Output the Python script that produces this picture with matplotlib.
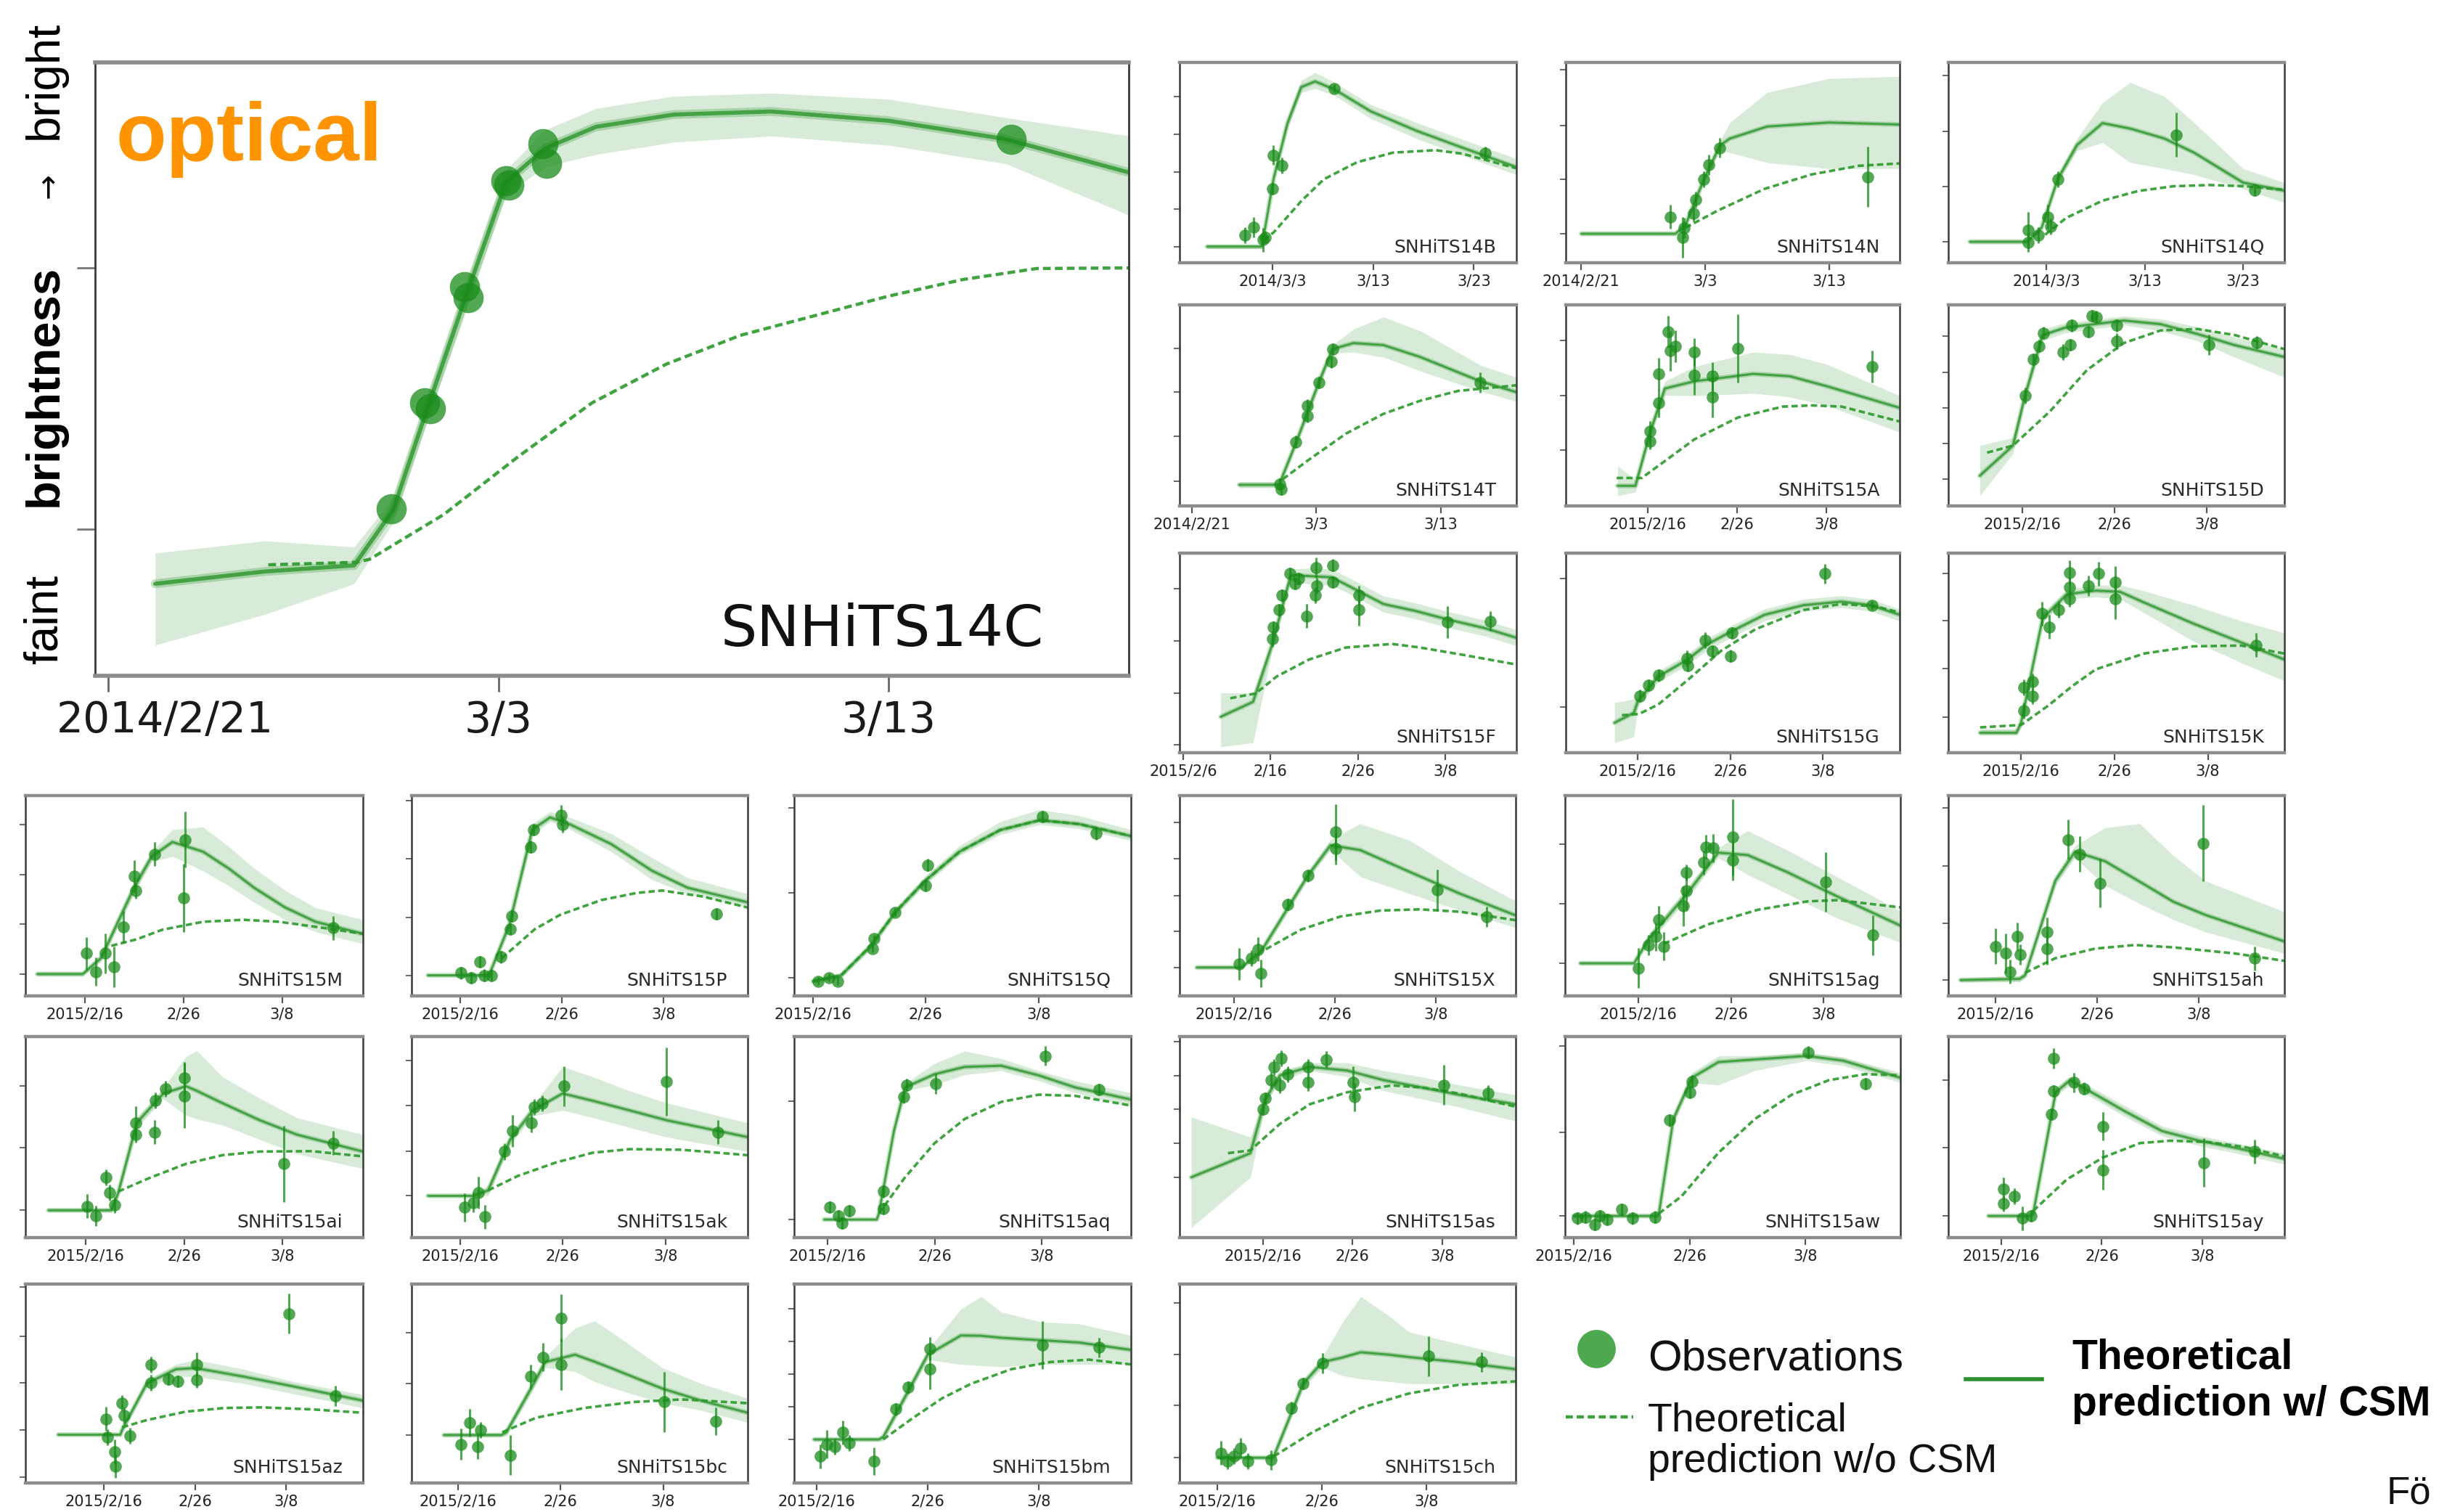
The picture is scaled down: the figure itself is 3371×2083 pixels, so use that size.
import matplotlib.pyplot as plt
from matplotlib.transforms import ScaledTranslation

W, H = 3371, 2083
DPI = 100
GREEN = '#1a8c1a'

# ---- data: x in days from first labelled tick, y = relative brightness (0 faint .. 1 bright)
# obs: (day, brightness, error) ; csm: (day, low, mid, high) ; nocsm: (day, brightness)

sn14C_obs = [(7.26, 0.272, 0), (8.1, 0.445, 0), (8.25, 0.435, 0), (9.14, 0.634, 0), (9.23, 0.617, 0),
             (10.2, 0.807, 0), (10.26, 0.800, 0), (11.15, 0.868, 0), (11.24, 0.836, 0), (23.15, 0.874, 0)]
sn14C_csm = [(1.2, 0.05, 0.15, 0.20), (4.0, 0.10, 0.17, 0.22), (6.3, 0.15, 0.18, 0.21), (7.3, 0.25, 0.27, 0.29),
             (8.2, 0.42, 0.44, 0.46), (9.2, 0.60, 0.625, 0.645), (10.2, 0.785, 0.805, 0.825), (11.2, 0.83, 0.86, 0.89),
             (12.5, 0.85, 0.895, 0.925), (14.5, 0.87, 0.915, 0.945), (17.0, 0.88, 0.92, 0.95), (20.0, 0.865, 0.905, 0.94),
             (23.0, 0.835, 0.875, 0.91), (26.2, 0.75, 0.82, 0.88)]
sn14C_nocsm = [(4.1, 0.181), (6.35, 0.185), (6.7, 0.19), (8.6, 0.263), (10.5, 0.357), (12.4, 0.445), (14.3, 0.508),
               (16.2, 0.555), (18.1, 0.587), (20.0, 0.619), (21.9, 0.646), (23.8, 0.664), (26.2, 0.665)]

sn14B_obs = [(-2.76, 0.139, 0.04), (-1.89, 0.178, 0.05), (-0.92, 0.115, 0.06), (-0.74, 0.127, 0.03), (0.0, 0.369, 0.03),
             (0.09, 0.538, 0.05), (0.92, 0.484, 0.04), (6.16, 0.871, 0.02), (21.1, 0.548, 0.03)]
sn14B_csm = [(-6.5, 0.07, 0.081, 0.09), (-1.06, 0.07, 0.081, 0.09), (0.1, 0.40, 0.42, 0.44), (1.47, 0.67, 0.695, 0.72),
             (2.85, 0.85, 0.877, 0.91), (4.23, 0.87, 0.905, 0.95), (6.16, 0.835, 0.865, 0.90), (9.75, 0.72, 0.756, 0.79),
             (14.3, 0.62, 0.659, 0.70), (18.9, 0.535, 0.574, 0.615), (24.2, 0.44, 0.478, 0.52)]
sn14B_nocsm = [(-0.92, 0.115), (0.1, 0.151), (2.85, 0.308), (5.1, 0.417), (8.4, 0.502), (12.0, 0.55), (16.2, 0.562),
               (18.9, 0.544), (24.2, 0.472)]

sn14N_obs = [(7.18, 0.23, 0.06), (8.2, 0.127, 0.1), (8.28, 0.175, 0.05), (9.07, 0.248, 0.04), (9.22, 0.314, 0.04),
             (9.9, 0.417, 0.04), (10.28, 0.49, 0.05), (11.15, 0.574, 0.05), (23.1, 0.429, 0.15)]
sn14N_csm = [(0.0, 0.135, 0.145, 0.155), (7.6, 0.135, 0.145, 0.155), (8.4, 0.17, 0.187, 0.2), (9.9, 0.40, 0.417, 0.435),
             (11.2, 0.56, 0.586, 0.61), (12.0, 0.55, 0.62, 0.70), (15.0, 0.50, 0.68, 0.85), (20.0, 0.47, 0.70, 0.92),
             (25.7, 0.47, 0.69, 0.93)]
sn14N_nocsm = [(8.4, 0.175), (11.0, 0.26), (14.8, 0.369), (18.6, 0.441), (22.4, 0.484), (25.7, 0.496)]

sn14Q_obs = [(-1.89, 0.164, 0.09), (-1.89, 0.103, 0.05), (-0.87, 0.139, 0.04), (0.11, 0.23, 0.06), (0.4, 0.182, 0.04),
             (1.13, 0.418, 0.04), (13.2, 0.639, 0.11), (21.2, 0.364, 0.03)]
sn14Q_csm = [(-7.8, 0.095, 0.105, 0.115), (-2.0, 0.095, 0.105, 0.115), (-0.5, 0.16, 0.176, 0.19), (1.13, 0.40, 0.418, 0.435),
             (3.1, 0.56, 0.588, 0.62), (5.7, 0.60, 0.697, 0.80), (8.5, 0.50, 0.67, 0.90), (12.0, 0.47, 0.62, 0.83),
             (15.0, 0.44, 0.55, 0.70), (20.0, 0.37, 0.40, 0.47), (24.2, 0.30, 0.36, 0.40)]
sn14Q_nocsm = [(-0.15, 0.14), (2.0, 0.224), (5.7, 0.31), (9.3, 0.358), (12.9, 0.382), (16.6, 0.388), (20.2, 0.382),
               (24.2, 0.364)]

sn14T_obs = [(7.04, 0.108, 0.03), (7.16, 0.084, 0.03), (8.36, 0.319, 0.03), (9.3, 0.446, 0.03), (9.3, 0.5, 0.03),
             (10.2, 0.614, 0.03), (11.2, 0.717, 0.03), (11.3, 0.78, 0.03), (23.2, 0.614, 0.05)]
sn14T_csm = [(3.8, 0.09, 0.105, 0.12), (7.0, 0.09, 0.105, 0.12), (8.4, 0.30, 0.32, 0.34), (10.2, 0.59, 0.614, 0.64),
             (11.3, 0.76, 0.78, 0.80), (13.0, 0.765, 0.81, 0.88), (15.4, 0.74, 0.80, 0.94), (18.4, 0.67, 0.74, 0.87),
             (23.2, 0.57, 0.62, 0.70), (26.1, 0.52, 0.566, 0.64)]
sn14T_nocsm = [(7.3, 0.133), (9.4, 0.23), (12.4, 0.36), (15.4, 0.458), (18.4, 0.524), (21.4, 0.572), (26.1, 0.6)]

sn15A_obs = [(0.25, 0.373, 0.05), (0.25, 0.32, 0.04), (1.23, 0.657, 0.08), (1.23, 0.512, 0.07), (2.3, 0.867, 0.08),
             (2.5, 0.771, 0.1), (3.1, 0.795, 0.08), (5.2, 0.765, 0.07), (5.2, 0.651, 0.1), (7.2, 0.645, 0.07),
             (7.2, 0.542, 0.1), (10.1, 0.783, 0.17), (25.1, 0.693, 0.08)]
sn15A_csm = [(-3.4, 0.05, 0.10, 0.20), (-1.4, 0.07, 0.10, 0.13), (0.25, 0.345, 0.367, 0.39), (1.9, 0.55, 0.584, 0.62),
             (5.2, 0.548, 0.62, 0.693), (11.8, 0.56, 0.657, 0.765), (15.9, 0.542, 0.645, 0.753), (20.0, 0.50, 0.596, 0.705),
             (28.2, 0.367, 0.488, 0.548)]
sn15A_nocsm = [(-3.5, 0.139), (-0.7, 0.139), (1.9, 0.223), (5.2, 0.331), (10.1, 0.44), (15.1, 0.494), (18.4, 0.5),
               (21.7, 0.494), (28.2, 0.42)]

sn15D_obs = [(0.3, 0.548, 0.04), (1.2, 0.729, 0.03), (1.8, 0.795, 0.03), (2.3, 0.861, 0.03), (4.4, 0.765, 0.04),
             (5.2, 0.801, 0.03), (5.4, 0.898, 0.03), (7.2, 0.867, 0.03), (7.6, 0.946, 0.03), (8.0, 0.94, 0.03),
             (10.2, 0.898, 0.03), (10.2, 0.819, 0.04), (20.2, 0.801, 0.05), (25.4, 0.813, 0.03)]
sn15D_csm = [(-4.6, 0.05, 0.15, 0.30), (-1.0, 0.26, 0.30, 0.34), (0.3, 0.52, 0.548, 0.57), (2.2, 0.82, 0.849, 0.88),
             (4.6, 0.86, 0.886, 0.91), (11.0, 0.90, 0.922, 0.945), (15.0, 0.87, 0.904, 0.93), (19.0, 0.82, 0.855, 0.89),
             (23.0, 0.74, 0.80, 0.84), (28.4, 0.64, 0.741, 0.78)]
sn15D_nocsm = [(-3.8, 0.265), (-1.0, 0.3), (3.0, 0.47), (7.0, 0.675), (11.0, 0.81), (15.0, 0.873), (19.0, 0.88),
               (23.0, 0.85), (28.4, 0.78)]

sn15F_obs = [(10.2, 0.57, 0.04), (10.3, 0.63, 0.03), (10.95, 0.715, 0.03), (11.3, 0.788, 0.03), (12.2, 0.897, 0.03),
             (12.8, 0.848, 0.03), (13.2, 0.873, 0.03), (14.1, 0.685, 0.06), (15.2, 0.927, 0.05), (15.1, 0.788, 0.04),
             (15.3, 0.836, 0.04), (17.1, 0.94, 0.03), (17.1, 0.855, 0.03), (20.1, 0.788, 0.05), (20.1, 0.715, 0.08),
             (30.2, 0.654, 0.08), (35.1, 0.66, 0.05)]
sn15F_csm = [(4.3, 0.03, 0.18, 0.30), (8.0, 0.05, 0.255, 0.30), (10.2, 0.52, 0.545, 0.57), (12.3, 0.86, 0.89, 0.92),
             (14.4, 0.845, 0.885, 0.925), (17.0, 0.84, 0.879, 0.92), (19.7, 0.78, 0.818, 0.86), (22.9, 0.705, 0.745, 0.785),
             (26.6, 0.67, 0.71, 0.75), (30.3, 0.627, 0.667, 0.707), (34.5, 0.584, 0.624, 0.664), (38.1, 0.536, 0.576, 0.616)]
sn15F_nocsm = [(5.4, 0.273), (8.3, 0.297), (10.7, 0.382), (14.4, 0.467), (18.6, 0.527), (23.9, 0.545), (27.1, 0.527),
               (31.9, 0.491), (38.1, 0.442)]

sn15G_obs = [(0.26, 0.285, 0.03), (1.2, 0.339, 0.03), (2.24, 0.388, 0.03), (5.3, 0.473, 0.04), (5.4, 0.436, 0.03),
             (7.3, 0.564, 0.04), (8.1, 0.51, 0.03), (10.2, 0.6, 0.03), (10.05, 0.485, 0.03), (20.2, 0.897, 0.05),
             (25.3, 0.739, 0.02)]
sn15G_csm = [(-2.5, 0.05, 0.15, 0.25), (-0.4, 0.08, 0.2, 0.27), (0.0, 0.23, 0.255, 0.28), (2.24, 0.355, 0.382, 0.41),
             (5.4, 0.44, 0.467, 0.495), (7.4, 0.51, 0.54, 0.57), (10.05, 0.576, 0.606, 0.636), (13.7, 0.661, 0.691, 0.721),
             (17.9, 0.709, 0.739, 0.769), (22.0, 0.727, 0.757, 0.787), (25.2, 0.709, 0.739, 0.769), (28.3, 0.66, 0.691, 0.72)]
sn15G_nocsm = [(-1.7, 0.188), (0.15, 0.194), (2.24, 0.242), (5.4, 0.364), (9.0, 0.51), (12.7, 0.618), (17.9, 0.715),
               (22.0, 0.745), (25.7, 0.733), (28.3, 0.703)]

sn15K_obs = [(0.26, 0.212, 0.04), (0.26, 0.327, 0.04), (1.2, 0.358, 0.04), (1.2, 0.285, 0.04), (2.2, 0.697, 0.06),
             (3.0, 0.63, 0.06), (4.05, 0.715, 0.04), (5.2, 0.903, 0.06), (5.2, 0.83, 0.05), (5.2, 0.77, 0.04),
             (7.2, 0.836, 0.05), (8.3, 0.897, 0.06), (10.1, 0.855, 0.08), (10.1, 0.77, 0.1), (25.2, 0.54, 0.06)]
sn15K_csm = [(-4.4, 0.09, 0.10, 0.12), (-0.5, 0.09, 0.10, 0.12), (0.0, 0.13, 0.152, 0.17), (2.3, 0.65, 0.673, 0.70),
             (4.9, 0.77, 0.794, 0.82), (8.0, 0.78, 0.812, 0.84), (10.6, 0.77, 0.806, 0.84), (13.2, 0.70, 0.752, 0.81),
             (18.4, 0.56, 0.648, 0.74), (23.6, 0.45, 0.552, 0.66), (28.2, 0.36, 0.467, 0.60)]
sn15K_nocsm = [(-4.4, 0.127), (0.0, 0.139), (2.9, 0.236), (5.45, 0.333), (8.0, 0.418), (13.2, 0.497), (18.4, 0.533),
               (23.6, 0.537), (28.2, 0.497)]

sn15M_obs = [(0.2, 0.212, 0.08), (1.14, 0.121, 0.07), (2.07, 0.212, 0.1), (2.95, 0.145, 0.1), (3.9, 0.345, 0.08),
             (5.0, 0.599, 0.08), (5.2, 0.527, 0.04), (7.1, 0.708, 0.06), (10.2, 0.78, 0.14), (10.0, 0.49, 0.17),
             (25.2, 0.339, 0.06)]
sn15M_csm = [(-4.8, 0.10, 0.109, 0.12), (-0.2, 0.10, 0.109, 0.12), (1.65, 0.17, 0.188, 0.21), (5.0, 0.51, 0.539, 0.57),
             (6.8, 0.67, 0.696, 0.72), (8.9, 0.696, 0.768, 0.83), (12.0, 0.624, 0.72, 0.843), (14.6, 0.55, 0.636, 0.745),
             (17.2, 0.466, 0.539, 0.636), (20.3, 0.38, 0.442, 0.527), (23.4, 0.32, 0.37, 0.44), (28.2, 0.26, 0.31, 0.38)]
sn15M_nocsm = [(2.7, 0.25), (5.3, 0.283), (7.85, 0.33), (12.0, 0.37), (16.1, 0.38), (19.7, 0.37), (23.4, 0.345),
               (28.2, 0.31)]

sn15P_obs = [(0.1, 0.115, 0.03), (1.1, 0.091, 0.03), (1.95, 0.17, 0.03), (2.35, 0.103, 0.03), (3.1, 0.103, 0.03),
             (4.0, 0.194, 0.03), (4.95, 0.333, 0.03), (5.1, 0.4, 0.03), (6.95, 0.744, 0.03), (7.2, 0.83, 0.03),
             (9.95, 0.903, 0.05), (10.1, 0.855, 0.04), (25.2, 0.41, 0.03)]
sn15P_csm = [(-3.15, 0.095, 0.103, 0.11), (2.85, 0.095, 0.103, 0.11), (4.85, 0.33, 0.357, 0.38), (7.1, 0.80, 0.83, 0.86),
             (8.85, 0.87, 0.891, 0.92), (10.85, 0.83, 0.855, 0.89), (14.85, 0.72, 0.758, 0.81), (18.85, 0.58, 0.625, 0.69),
             (22.35, 0.51, 0.54, 0.59), (28.25, 0.44, 0.467, 0.51)]
sn15P_nocsm = [(4.1, 0.188), (7.35, 0.333), (9.85, 0.405), (13.85, 0.478), (17.35, 0.514), (19.85, 0.526),
               (23.85, 0.496), (28.25, 0.441)]

sn15Q_obs = [(0.44, 0.073, 0.02), (1.4, 0.091, 0.02), (2.2, 0.073, 0.02), (5.3, 0.236, 0.02), (5.4, 0.285, 0.02),
             (7.3, 0.418, 0.02), (9.96, 0.55, 0.03), (10.2, 0.653, 0.03), (20.35, 0.895, 0.03), (25.1, 0.81, 0.03)]
sn15Q_csm = [(0.0, 0.065, 0.073, 0.08), (2.5, 0.09, 0.103, 0.115), (5.1, 0.23, 0.248, 0.265), (7.3, 0.40, 0.418, 0.435),
             (9.96, 0.555, 0.575, 0.60), (13.0, 0.70, 0.72, 0.75), (16.6, 0.805, 0.828, 0.87), (20.1, 0.855, 0.877, 0.93),
             (23.6, 0.835, 0.858, 0.9), (28.2, 0.775, 0.798, 0.83)]
sn15Q_nocsm = [(0.0, 0.073), (2.5, 0.103), (5.1, 0.248), (7.3, 0.418), (9.96, 0.575), (13.0, 0.72), (16.6, 0.828),
               (20.1, 0.877), (23.6, 0.858), (28.2, 0.798)]

sn15X_obs = [(0.5, 0.16, 0.08), (1.7, 0.19, 0.04), (2.4, 0.233, 0.06), (2.66, 0.112, 0.07), (5.3, 0.456, 0.03),
             (7.3, 0.6, 0.03), (10.05, 0.818, 0.14), (10.05, 0.734, 0.08), (20.1, 0.529, 0.1), (25.0, 0.396, 0.05)]
sn15X_csm = [(-3.7, 0.135, 0.142, 0.15), (0.7, 0.135, 0.142, 0.15), (2.66, 0.20, 0.221, 0.24), (7.3, 0.58, 0.60, 0.62),
             (9.56, 0.73, 0.752, 0.78), (12.5, 0.595, 0.728, 0.86), (17.4, 0.51, 0.619, 0.776), (22.4, 0.426, 0.51, 0.62),
             (27.9, 0.341, 0.402, 0.474)]
sn15X_nocsm = [(3.15, 0.233), (6.6, 0.33), (10.5, 0.396), (14.5, 0.426), (18.4, 0.432), (22.4, 0.42), (27.9, 0.378)]

sn15ag_obs = [(0.0, 0.139, 0.1), (1.08, 0.254, 0.05), (1.83, 0.296, 0.07), (2.15, 0.38, 0.07), (2.7, 0.248, 0.07),
              (4.84, 0.448, 0.1), (5.16, 0.527, 0.1), (5.16, 0.617, 0.04), (7.0, 0.665, 0.06), (7.3, 0.744, 0.06),
              (8.06, 0.738, 0.07), (10.2, 0.793, 0.19), (10.2, 0.677, 0.1), (20.2, 0.569, 0.15), (25.3, 0.303, 0.1)]
sn15ag_csm = [(-6.3, 0.155, 0.163, 0.17), (-0.5, 0.155, 0.163, 0.17), (1.08, 0.26, 0.284, 0.31), (5.4, 0.49, 0.52, 0.55),
              (8.6, 0.69, 0.715, 0.74), (11.8, 0.605, 0.703, 0.824), (16.1, 0.508, 0.617, 0.727),
              (21.5, 0.387, 0.496, 0.593), (28.3, 0.266, 0.351, 0.424)]
sn15ag_nocsm = [(2.7, 0.26), (7.5, 0.357), (12.9, 0.43), (18.3, 0.472), (21.5, 0.478), (28.3, 0.442)]

sn15ah_obs = [(0.0, 0.248, 0.09), (1.0, 0.212, 0.1), (1.47, 0.121, 0.06), (2.16, 0.296, 0.07), (2.45, 0.206, 0.05),
              (5.1, 0.32, 0.07), (5.1, 0.236, 0.08), (7.16, 0.78, 0.1), (8.3, 0.708, 0.09), (10.3, 0.563, 0.12),
              (20.4, 0.762, 0.19), (25.5, 0.188, 0.06)]
sn15ah_csm = [(-3.4, 0.07, 0.079, 0.09), (2.4, 0.07, 0.085, 0.10), (2.94, 0.09, 0.103, 0.12), (5.9, 0.55, 0.575, 0.60),
              (7.84, 0.69, 0.72, 0.75), (10.8, 0.55, 0.672, 0.84), (14.2, 0.46, 0.57, 0.86), (17.5, 0.38, 0.47, 0.70),
              (20.6, 0.32, 0.405, 0.575), (28.4, 0.212, 0.272, 0.42)]
sn15ah_nocsm = [(2.94, 0.115), (5.9, 0.188), (9.8, 0.236), (13.7, 0.254), (17.6, 0.242), (23.5, 0.212), (28.4, 0.175)]

sn15ai_obs = [(0.15, 0.157, 0.06), (1.06, 0.108, 0.05), (2.05, 0.3, 0.04), (2.4, 0.223, 0.04), (2.95, 0.163, 0.04),
              (5.1, 0.572, 0.08), (5.1, 0.512, 0.04), (7.0, 0.524, 0.06), (7.1, 0.681, 0.04), (8.1, 0.741, 0.04),
              (10.0, 0.795, 0.08), (10.0, 0.705, 0.16), (20.15, 0.367, 0.19), (25.2, 0.47, 0.06)]
sn15ai_csm = [(-3.8, 0.128, 0.136, 0.145), (2.6, 0.128, 0.136, 0.145), (3.3, 0.20, 0.223, 0.245), (5.2, 0.545, 0.572, 0.60),
              (7.9, 0.69, 0.717, 0.745), (10.2, 0.608, 0.753, 0.90), (11.3, 0.59, 0.73, 0.93), (13.9, 0.56, 0.669, 0.80),
              (17.7, 0.488, 0.584, 0.693), (21.5, 0.416, 0.512, 0.596), (28.2, 0.343, 0.428, 0.512)]
sn15ai_nocsm = [(3.3, 0.229), (6.4, 0.295), (10.2, 0.367), (13.9, 0.41), (17.7, 0.428), (23.0, 0.43), (28.2, 0.404)]

sn15ak_obs = [(0.43, 0.15, 0.07), (1.3, 0.175, 0.05), (1.8, 0.223, 0.08), (2.4, 0.103, 0.06), (4.35, 0.428, 0.04),
              (5.15, 0.53, 0.08), (6.96, 0.572, 0.05), (7.25, 0.651, 0.04), (8.04, 0.669, 0.04), (10.1, 0.753, 0.1),
              (20.1, 0.777, 0.17), (25.1, 0.524, 0.06)]
sn15ak_csm = [(-3.1, 0.2, 0.208, 0.215), (1.3, 0.2, 0.208, 0.215), (2.75, 0.21, 0.235, 0.26), (4.9, 0.46, 0.488, 0.515),
              (7.1, 0.605, 0.633, 0.66), (10.0, 0.633, 0.717, 0.85), (12.9, 0.597, 0.681, 0.80), (16.5, 0.548, 0.633, 0.73),
              (20.1, 0.50, 0.584, 0.67), (28.0, 0.428, 0.50, 0.57)]
sn15ak_nocsm = [(2.75, 0.235), (5.65, 0.307), (9.3, 0.373), (12.9, 0.422), (16.5, 0.44), (21.6, 0.437), (28.0, 0.41)]

sn15aq_obs = [(0.2, 0.151, 0.03), (1.03, 0.108, 0.03), (1.38, 0.072, 0.03), (2.07, 0.133, 0.03), (5.2, 0.23, 0.03),
              (5.2, 0.145, 0.03), (7.1, 0.699, 0.03), (7.4, 0.759, 0.03), (10.1, 0.765, 0.05), (20.3, 0.904, 0.05),
              (25.3, 0.737, 0.03)]
sn15aq_csm = [(-0.3, 0.085, 0.09, 0.095), (4.6, 0.085, 0.09, 0.095), (4.8, 0.105, 0.12, 0.135), (6.2, 0.51, 0.53, 0.55),
              (7.24, 0.73, 0.747, 0.765), (10.0, 0.76, 0.813, 0.867), (12.8, 0.81, 0.849, 0.928), (16.2, 0.83, 0.855, 0.89),
              (19.7, 0.78, 0.807, 0.83), (23.1, 0.72, 0.747, 0.78), (28.3, 0.65, 0.687, 0.72)]
sn15aq_nocsm = [(4.8, 0.12), (7.24, 0.3), (10.0, 0.47), (12.8, 0.59), (16.2, 0.675), (19.7, 0.711), (23.1, 0.705),
                (28.3, 0.657)]

sn15as_obs = [(0.0, 0.639, 0.03), (0.25, 0.693, 0.03), (0.9, 0.783, 0.04), (1.2, 0.849, 0.04), (1.9, 0.759, 0.04),
              (2.07, 0.892, 0.04), (2.74, 0.813, 0.04), (5.06, 0.849, 0.04), (5.0, 0.771, 0.04), (7.05, 0.886, 0.04),
              (10.04, 0.771, 0.08), (10.2, 0.699, 0.07), (20.2, 0.759, 0.1), (25.1, 0.717, 0.04)]
sn15as_csm = [(-8.0, 0.05, 0.3, 0.60), (-1.4, 0.30, 0.42, 0.50), (0.25, 0.66, 0.687, 0.71), (1.9, 0.78, 0.807, 0.83),
              (5.2, 0.83, 0.849, 0.87), (9.4, 0.80, 0.831, 0.87), (13.5, 0.73, 0.783, 0.83), (17.7, 0.69, 0.747, 0.80),
              (21.8, 0.65, 0.711, 0.76), (28.2, 0.58, 0.663, 0.71)]
sn15as_nocsm = [(-3.9, 0.42), (-1.4, 0.434), (1.9, 0.566), (5.2, 0.663), (9.4, 0.723), (14.4, 0.757), (17.7, 0.747),
                (21.8, 0.717), (28.2, 0.651)]

sn15aw_obs = [(0.3, 0.096, 0.03), (0.96, 0.102, 0.03), (1.8, 0.066, 0.03), (2.24, 0.108, 0.03), (2.9, 0.09, 0.03),
              (4.15, 0.139, 0.03), (5.1, 0.096, 0.03), (7.0, 0.102, 0.03), (8.3, 0.584, 0.03), (10.0, 0.723, 0.03),
              (10.2, 0.777, 0.03), (20.25, 0.922, 0.03), (25.2, 0.765, 0.03)]
sn15aw_csm = [(0.0, 0.10, 0.108, 0.115), (7.2, 0.10, 0.108, 0.115), (7.35, 0.10, 0.12, 0.14), (8.6, 0.57, 0.59, 0.61),
              (10.2, 0.77, 0.795, 0.82), (12.5, 0.759, 0.873, 0.904), (15.65, 0.831, 0.886, 0.904),
              (20.1, 0.88, 0.904, 0.922), (23.3, 0.855, 0.88, 0.898), (28.24, 0.771, 0.795, 0.82)]
sn15aw_nocsm = [(7.35, 0.12), (9.3, 0.205), (12.5, 0.422), (15.65, 0.59), (18.85, 0.711), (22.05, 0.783), (25.2, 0.813),
                (28.24, 0.807)]

sn15ay_obs = [(0.22, 0.241, 0.06), (0.22, 0.169, 0.04), (1.3, 0.205, 0.04), (2.06, 0.096, 0.06), (2.94, 0.108, 0.03),
              (5.0, 0.614, 0.03), (5.2, 0.729, 0.03), (5.2, 0.892, 0.05), (7.2, 0.771, 0.05), (8.2, 0.741, 0.03),
              (10.1, 0.554, 0.07), (10.1, 0.337, 0.1), (20.2, 0.373, 0.12), (25.2, 0.428, 0.06)]
sn15ay_csm = [(-1.3, 0.10, 0.108, 0.115), (2.8, 0.10, 0.108, 0.115), (3.16, 0.10, 0.12, 0.14), (5.4, 0.70, 0.723, 0.745),
              (6.84, 0.76, 0.783, 0.805), (9.4, 0.686, 0.711, 0.736), (12.35, 0.60, 0.627, 0.655), (16.0, 0.505, 0.53, 0.555),
              (19.7, 0.457, 0.482, 0.507), (23.4, 0.42, 0.446, 0.47), (28.2, 0.365, 0.392, 0.42)]
sn15ay_nocsm = [(3.16, 0.133), (6.5, 0.289), (10.1, 0.398), (13.8, 0.47), (16.8, 0.482), (20.4, 0.476), (24.1, 0.452),
                (28.2, 0.404)]

sn15az_obs = [(0.2, 0.322, 0.06), (0.43, 0.231, 0.04), (1.17, 0.158, 0.06), (1.28, 0.085, 0.06), (2.0, 0.401, 0.04),
              (2.2, 0.34, 0.04), (2.87, 0.237, 0.04), (5.2, 0.596, 0.04), (5.2, 0.505, 0.04), (7.1, 0.523, 0.03),
              (8.1, 0.511, 0.03), (10.2, 0.596, 0.06), (10.2, 0.517, 0.04), (20.3, 0.852, 0.1), (25.4, 0.438, 0.05)]
sn15az_csm = [(-5.0, 0.235, 0.243, 0.25), (1.8, 0.235, 0.243, 0.25), (2.0, 0.25, 0.268, 0.285), (4.7, 0.48, 0.50, 0.52),
              (7.9, 0.535, 0.572, 0.596), (10.0, 0.535, 0.578, 0.62), (15.3, 0.50, 0.535, 0.572), (20.6, 0.45, 0.487, 0.511),
              (28.4, 0.377, 0.414, 0.444)]
sn15az_nocsm = [(2.0, 0.28), (4.7, 0.316), (8.9, 0.358), (13.2, 0.377), (17.4, 0.38), (22.8, 0.37), (28.4, 0.353)]

sn15bc_obs = [(0.28, 0.195, 0.08), (1.14, 0.304, 0.07), (1.9, 0.182, 0.06), (2.2, 0.268, 0.04), (5.1, 0.14, 0.1),
              (7.1, 0.535, 0.06), (8.25, 0.633, 0.07), (10.05, 0.83, 0.12), (10.05, 0.596, 0.13), (20.1, 0.407, 0.15),
              (25.1, 0.31, 0.07)]
sn15bc_csm = [(-1.4, 0.233, 0.241, 0.25), (4.2, 0.233, 0.241, 0.25), (4.7, 0.235, 0.255, 0.275), (7.1, 0.45, 0.475, 0.50),
              (8.5, 0.58, 0.608, 0.635), (11.4, 0.56, 0.645, 0.779), (13.3, 0.51, 0.61, 0.815), (15.2, 0.475, 0.572, 0.75),
              (19.9, 0.402, 0.475, 0.58), (23.7, 0.365, 0.414, 0.50), (28.25, 0.304, 0.353, 0.426)]
sn15bc_nocsm = [(4.3, 0.255), (7.6, 0.328), (12.3, 0.377), (17.1, 0.407), (21.8, 0.42), (28.25, 0.401)]

sn15bm_obs = [(0.35, 0.134, 0.06), (0.96, 0.195, 0.07), (1.67, 0.182, 0.04), (2.37, 0.255, 0.06), (2.98, 0.201, 0.04),
              (5.2, 0.109, 0.07), (7.1, 0.371, 0.03), (8.25, 0.48, 0.03), (10.2, 0.675, 0.06), (10.2, 0.572, 0.1),
              (20.3, 0.693, 0.12), (25.35, 0.681, 0.05)]
sn15bm_csm = [(-0.2, 0.21, 0.219, 0.228), (5.6, 0.21, 0.219, 0.228), (6.0, 0.21, 0.231, 0.25), (8.25, 0.44, 0.462, 0.485),
              (10.0, 0.62, 0.645, 0.67), (13.0, 0.596, 0.742, 0.876), (14.8, 0.59, 0.74, 0.937), (16.6, 0.584, 0.73, 0.86),
              (20.1, 0.596, 0.718, 0.81), (23.6, 0.596, 0.706, 0.80), (28.25, 0.596, 0.669, 0.742)]
sn15bm_nocsm = [(6.0, 0.219), (8.7, 0.328), (11.3, 0.426), (13.9, 0.499), (17.5, 0.572), (21.0, 0.608), (24.5, 0.62),
                (28.25, 0.596)]

sn15ch_obs = [(0.37, 0.151, 0.06), (1.0, 0.109, 0.04), (1.57, 0.134, 0.04), (2.2, 0.176, 0.05), (2.95, 0.109, 0.04),
              (5.16, 0.115, 0.05), (7.1, 0.377, 0.03), (8.2, 0.499, 0.03), (10.05, 0.602, 0.05), (20.2, 0.638, 0.1),
              (25.25, 0.608, 0.05)]
sn15ch_csm = [(0.0, 0.12, 0.127, 0.135), (5.2, 0.12, 0.127, 0.135), (5.4, 0.115, 0.134, 0.155), (8.2, 0.475, 0.499, 0.52),
              (10.05, 0.58, 0.608, 0.635), (11.9, 0.54, 0.63, 0.803), (13.7, 0.523, 0.657, 0.937), (16.4, 0.51, 0.645, 0.84),
              (18.3, 0.499, 0.633, 0.76), (23.0, 0.499, 0.608, 0.70), (28.5, 0.499, 0.572, 0.633)]
sn15ch_nocsm = [(5.4, 0.134), (9.1, 0.255), (13.7, 0.377), (18.3, 0.45), (23.0, 0.493), (28.5, 0.511)]

# tick labels
ticks_14a = [(0, '2014/2/21'), (10, '3/3'), (20, '3/13')]
ticks_14b = [(0, '2014/3/3'), (10, '3/13'), (20, '3/23')]
ticks_15 = [(0, '2015/2/16'), (10, '2/26'), (20, '3/8')]
ticks_15F = [(0, '2015/2/6'), (10, '2/16'), (20, '2/26'), (30, '3/8')]

# name, obs, csm, nocsm, x ticks, x range (days), y tick marks
panels = [
    ('SNHiTS14B', sn14B_obs, sn14B_csm, sn14B_nocsm, ticks_14b, (-9.24, 24.23), [0.081, 0.268, 0.453, 0.641, 0.831]),
    ('SNHiTS14N', sn14N_obs, sn14N_csm, sn14N_nocsm, ticks_14a, (-1.25, 25.7), [0.145, 0.417, 0.686, 0.964]),
    ('SNHiTS14Q', sn14Q_obs, sn14Q_csm, sn14Q_nocsm, ticks_14b, (-10.0, 24.2), [0.106, 0.38, 0.655, 0.933]),
    ('SNHiTS14T', sn14T_obs, sn14T_csm, sn14T_nocsm, ticks_14a, (-1.0, 26.1), [0.124, 0.346, 0.566, 0.785]),
    ('SNHiTS15A', sn15A_obs, sn15A_csm, sn15A_nocsm, ticks_15, (-9.2, 28.2), [0.277, 0.548, 0.822]),
    ('SNHiTS15D', sn15D_obs, sn15D_csm, sn15D_nocsm, ticks_15, (-8.0, 28.4), [0.135, 0.311, 0.488, 0.665, 0.846]),
    ('SNHiTS15F', sn15F_obs, sn15F_csm, sn15F_nocsm, ticks_15F, (-0.4, 38.1), [0.04, 0.3, 0.56, 0.822]),
    ('SNHiTS15G', sn15G_obs, sn15G_csm, sn15G_nocsm, ticks_15, (-7.76, 28.3), [0.23, 0.873]),
    ('SNHiTS15K', sn15K_obs, sn15K_csm, sn15K_nocsm, ticks_15, (-7.8, 28.2), [0.179, 0.421, 0.661, 0.897]),
    ('SNHiTS15M', sn15M_obs, sn15M_csm, sn15M_nocsm, ticks_15, (-6.0, 28.2), [0.109, 0.357, 0.605, 0.855]),
    ('SNHiTS15P', sn15P_obs, sn15P_csm, sn15P_nocsm, ticks_15, (-4.75, 28.25), [0.103, 0.393, 0.683, 0.973]),
    ('SNHiTS15Q', sn15Q_obs, sn15Q_csm, sn15Q_nocsm, ticks_15, (-1.67, 28.2), [0.09, 0.514, 0.937]),
    ('SNHiTS15X', sn15X_obs, sn15X_csm, sn15X_nocsm, ticks_15, (-5.4, 27.9), [0.142, 0.323, 0.501, 0.686, 0.867]),
    ('SNHiTS15ag', sn15ag_obs, sn15ag_csm, sn15ag_nocsm, ticks_15, (-7.96, 28.3), [0.163, 0.46, 0.757]),
    ('SNHiTS15ah', sn15ah_obs, sn15ah_csm, sn15ah_nocsm, ticks_15, (-4.6, 28.4), [0.079, 0.363, 0.647, 0.937]),
    ('SNHiTS15ai', sn15ai_obs, sn15ai_csm, sn15ai_nocsm, ticks_15, (-6.14, 28.2), [0.136, 0.446, 0.755]),
    ('SNHiTS15ak', sn15ak_obs, sn15ak_csm, sn15ak_nocsm, ticks_15, (-4.7, 28.0), [0.208, 0.431, 0.657, 0.882]),
    ('SNHiTS15aq', sn15aq_obs, sn15aq_csm, sn15aq_nocsm, ticks_15, (-3.1, 28.3), [0.09, 0.68]),
    ('SNHiTS15as', sn15as_obs, sn15as_csm, sn15as_nocsm, ticks_15, (-9.3, 28.2), [0.301, 0.47, 0.639, 0.805, 0.976]),
    ('SNHiTS15aw', sn15aw_obs, sn15aw_csm, sn15aw_nocsm, ticks_15, (-0.77, 28.24), [0.108, 0.524, 0.952]),
    ('SNHiTS15ay', sn15ay_obs, sn15ay_csm, sn15ay_nocsm, ticks_15, (-5.3, 28.2), [0.108, 0.446, 0.783]),
    ('SNHiTS15az', sn15az_obs, sn15az_csm, sn15az_nocsm, ticks_15, (-8.6, 28.4), [0.03, 0.268, 0.505, 0.736, 0.985]),
    ('SNHiTS15bc', sn15bc_obs, sn15bc_csm, sn15bc_nocsm, ticks_15, (-4.55, 28.25), [0.241, 0.499, 0.757]),
    ('SNHiTS15bm', sn15bm_obs, sn15bm_csm, sn15bm_nocsm, ticks_15, (-2.0, 28.25), [0.219, 0.383, 0.547, 0.712, 0.876]),
    ('SNHiTS15ch', sn15ch_obs, sn15ch_csm, sn15ch_nocsm, ticks_15, (-3.6, 28.5), [0.127, 0.389, 0.647, 0.906]),
]

# ---- layout (pixels)
cols_right = [(1625, 2089), (2157, 2617), (2684, 3147)]
cols_low = [(35, 500), (567, 1030), (1094, 1558), (1625, 2088), (2156, 2618), (2684, 3147)]
rows = [(86, 362), (420, 697), (762, 1037), (1096, 1372), (1428, 1705), (1769, 2043)]
boxes = []
for r in range(3):
    for c in range(3):
        boxes.append((cols_right[c], rows[r]))
for r in range(3, 6):
    for c in range(6):
        boxes.append((cols_low[c], rows[r]))


def rect(cx, ry):
    l, r = cx
    t, b = ry
    return [l / W, 1 - b / H, (r - l) / W, (b - t) / H]


def frame(ax, tb, lr):
    for s in ['top', 'bottom']:
        ax.spines[s].set_linewidth(tb)
        ax.spines[s].set_color('#8c8c8c')
    for s in ['left', 'right']:
        ax.spines[s].set_linewidth(lr)
        ax.spines[s].set_color('#3a3a3a')


def draw(ax, obs, csm, nocsm, ms, elw, lw_mid, lw_dash):
    cx = [c[0] for c in csm]
    ax.fill_between(cx, [c[1] for c in csm], [c[3] for c in csm], color=GREEN, alpha=0.17, lw=0)
    ax.plot(cx, [c[2] for c in csm], color=GREEN, lw=lw_mid * 2.2, alpha=0.25, solid_capstyle='round')
    ax.plot(cx, [c[2] for c in csm], color=GREEN, lw=lw_mid, alpha=0.7, solid_capstyle='round')
    ax.plot([n[0] for n in nocsm], [n[1] for n in nocsm], color='#2a9a2a', lw=lw_dash,
            ls=(0, (2.4, 1.3)), alpha=0.9)
    ax.errorbar([o[0] for o in obs], [o[1] for o in obs], yerr=[o[2] for o in obs], fmt='o', ms=ms,
                color=GREEN, mec=GREEN, mew=0, alpha=0.75, elinewidth=elw, capsize=0)


fig = plt.figure(figsize=(W / DPI, H / DPI), dpi=DPI)
fig.patch.set_facecolor('white')

# big panel
ax = fig.add_axes(rect((131, 1555), (86, 931)))
draw(ax, sn14C_obs, sn14C_csm, sn14C_nocsm, ms=30, elw=2, lw_mid=4, lw_dash=3.2)
ax.set_xlim(-0.34, 26.16)
ax.set_ylim(0, 1)
ax.set_xticks([t[0] for t in ticks_14a], [t[1] for t in ticks_14a])
ax.set_yticks([0.239, 0.665], ['', ''])
ax.tick_params(axis='x', direction='out', length=16, width=2, pad=8, labelsize=42, colors='#666666',
               labelcolor='#1a1a1a')
ax.tick_params(axis='y', direction='out', length=18, width=2, colors='#777777')
first = ax.get_xticklabels()[0]
first.set_transform(first.get_transform() + ScaledTranslation(78 / DPI, 0, fig.dpi_scale_trans))
frame(ax, 4, 2)
ax.text(0.02, 0.84, 'optical', transform=ax.transAxes, ha='left', va='baseline', fontsize=82,
        fontweight='bold', color='#ff9300', family='Liberation Sans')
ax.text(0.918, 0.049, 'SNHiTS14C', transform=ax.transAxes, ha='right', va='baseline', fontsize=57,
        color='#111111')

fig.text(62 / W, 1 - 853 / H, 'faint', rotation=90, ha='center', va='center', fontsize=47,
         family='Liberation Sans')
fig.text(62 / W, 1 - 532 / H, 'brightness', rotation=90, ha='center', va='center', fontsize=47,
         fontweight='bold', family='Liberation Sans')
fig.text(66 / W, 1 - 256 / H, '\u2192', rotation=90, ha='center', va='center', fontsize=30,
         family='DejaVu Sans')
fig.text(62 / W, 1 - 110 / H, 'bright', rotation=90, ha='center', va='center', fontsize=47,
         family='Liberation Sans')

# small panels
for (name, obs, csm, nocsm, ticks, xr, yt), (cx, ry) in zip(panels, boxes):
    ax = fig.add_axes(rect(cx, ry))
    draw(ax, obs, csm, nocsm, ms=12, elw=2.2, lw_mid=2.2, lw_dash=2.6)
    ax.set_xlim(*xr)
    ax.set_ylim(0, 1)
    ax.set_xticks([t[0] for t in ticks], [t[1] for t in ticks])
    ax.set_yticks(yt, [''] * len(yt))
    ax.tick_params(axis='x', direction='out', length=7, width=1.6, pad=4, labelsize=15, colors='#555555',
                   labelcolor='#222222')
    ax.tick_params(axis='y', direction='out', length=6, width=1.4, colors='#666666')
    frame(ax, 3.2, 1.8)
    ax.text(0.94, 0.05, name, transform=ax.transAxes, ha='right', va='baseline', fontsize=18,
            color='#2a2a2a')

# legend drawn in pixel coordinates
lg = fig.add_axes([0, 0, 1, 1], zorder=5)
lg.set_xlim(0, W)
lg.set_ylim(H, 0)
lg.axis('off')
lg.plot([2199], [1858], 'o', ms=38, color='#4ea84e', mew=0)
lg.text(2270, 1888, 'Observations', fontsize=43, family='Liberation Sans', va='baseline', color='#111111')
lg.plot([2157, 2250], [1952, 1952], color='#3aa03a', lw=3.2, ls=(0, (2.2, 1.2)))
lg.text(2270, 1972, 'Theoretical', fontsize=40, family='Liberation Sans', va='baseline', color='#111111')
lg.text(2270, 2028, 'prediction w/o CSM', fontsize=40, family='Liberation Sans', va='baseline', color='#111111')
lg.plot([2708, 2813], [1900, 1900], color='#2e8f2e', lw=4)
lg.text(2854, 1885, 'Theoretical', fontsize=41, family='Liberation Sans', fontweight='bold', va='baseline')
lg.text(2854, 1950, 'prediction w/ CSM', fontsize=41, family='Liberation Sans', fontweight='bold', va='baseline')
lg.text(3288, 2072, 'F\u00f6', fontsize=38, family='Liberation Sans', va='baseline', color='#111111')

fig.savefig('out.png', dpi=DPI, facecolor='white')
